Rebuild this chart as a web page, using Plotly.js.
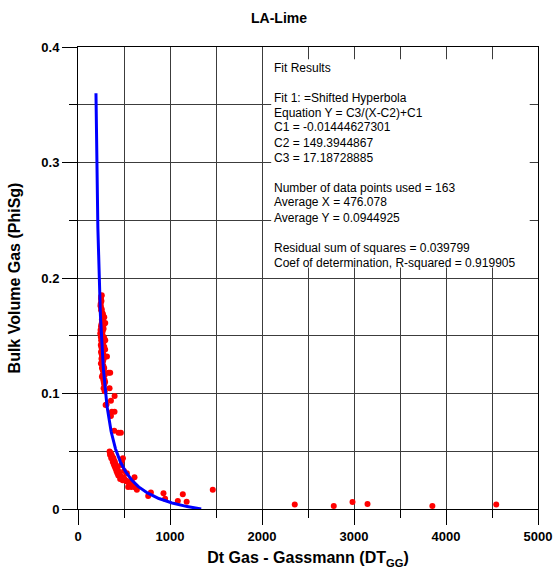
<!DOCTYPE html>
<html>
<head>
<meta charset="utf-8">
<script src="https://cdn.plot.ly/plotly-3.0.1.min.js"></script>
<style>
  html, body { margin: 0; padding: 0; background: #fff; }
  #chart { width: 558px; height: 571px; }
</style>
</head>
<body>
<div id="chart"></div>
<script>
// Measured samples: Dt Gas - Gassmann (x) vs Bulk Volume Gas PhiSg (y)
const dtGas = [
  258,252,250,255,247,249,244,252,258,262,
  270,265,275,272,285,268,260,275,262,282,
  296,255,270,250,262,278,245,258,268,242,
  250,262,255,270,248,260,285,296,252,265,
  258,275,262,285,248,255,270,260,295,265,
  250,275,258,315,262,268,255,280,265,272,
  249,262,275,268,260,285,270,278,332,350,
  282,268,290,260,275,288,280,295,285,343,
  278,290,398,358,300,310,368,397,358,394,
  441,466,
  343,350,355,348,360,365,370,362,375,380,
  385,378,390,395,388,400,405,398,410,415,
  408,420,425,418,430,435,428,440,445,438,
  450,455,462,458,468,475,480,488,478,470,
  500,485,495,505,515,524,531,540,555,567,
  580,590,614,600,545,
  1465,1181,1139,1085,947,929,792,763,640,622,
  2356,2780,2984,3147,3852,4546
];
const phiSg = [
  0.185,0.184,0.182,0.180,0.178,0.175,0.176,0.172,0.173,0.170,
  0.169,0.168,0.167,0.166,0.166,0.164,0.164,0.162,0.162,0.160,
  0.161,0.160,0.158,0.158,0.156,0.156,0.155,0.154,0.154,0.152,
  0.152,0.152,0.150,0.150,0.149,0.148,0.148,0.146,0.146,0.146,
  0.144,0.144,0.142,0.1405,0.142,0.140,0.140,0.138,0.138,0.136,
  0.136,0.134,0.134,0.132,0.132,0.131,0.130,0.130,0.128,0.128,
  0.126,0.126,0.124,0.124,0.122,0.122,0.120,0.120,0.118,0.118,
  0.118,0.116,0.116,0.1146,0.112,0.112,0.110,0.110,0.108,0.1045,
  0.1045,0.102,0.0978,0.0938,0.090,0.0905,0.0842,0.0842,0.0805,0.0678,
  0.066,0.066,
  0.0498,0.049,0.048,0.047,0.046,0.047,0.045,0.044,0.045,0.043,
  0.044,0.041,0.042,0.040,0.039,0.041,0.039,0.037,0.038,0.037,
  0.035,0.036,0.035,0.033,0.034,0.033,0.031,0.032,0.031,0.029,
  0.030,0.029,0.028,0.026,0.027,0.028,0.026,0.0439,0.042,0.038,
  0.033,0.025,0.027,0.026,0.025,0.024,0.031,0.024,0.022,0.0204,
  0.019,0.023,0.0274,0.021,0.019,
  0.0167,0.0063,0.0127,0.0069,0.0088,0.0137,0.0142,0.0112,0.0166,0.0186,
  0.0038,0.0026,0.0060,0.0044,0.0026,0.0038
];

// Shifted hyperbola fit: Y = C3/(X-C2)+C1
const C1 = -0.01444627301;
const C2 = 149.3944867;
const C3 = 17.18728885;
const fitTopY = 0.36;   // curve drawn from this Y down to Y = 0

const fitLines = [
  'Fit Results',
  '',
  'Fit 1: =Shifted Hyperbola',
  'Equation Y = C3/(X-C2)+C1',
  'C1 = -0.01444627301',
  'C2 = 149.3944867',
  'C3 = 17.18728885',
  '',
  'Number of data points used = 163',
  'Average X = 476.078',
  'Average Y = 0.0944925',
  '',
  'Residual sum of squares = 0.039799',
  'Coef of determination, R-squared = 0.919905'
];

// sample the fitted curve, denser near the steep end
const dStart = C3 / (fitTopY - C1);
const dEnd = -C3 / C1;
const fitX = [], fitY = [];
const N = 400;
for (let i = 0; i <= N; i++) {
  const d = dStart * Math.pow(dEnd / dStart, i / N);
  const x = C2 + d;
  fitX.push(x);
  fitY.push(C3 / (x - C2) + C1);
}

const FONT = 'Liberation Sans, Arial, sans-serif';

const traces = [
  {
    x: dtGas, y: phiSg, type: 'scatter', mode: 'markers',
    marker: { color: '#ff0000', size: 6 },
    hoverinfo: 'skip'
  },
  {
    x: fitX, y: fitY, type: 'scatter', mode: 'lines',
    line: { color: '#0000ff', width: 3 },
    hoverinfo: 'skip'
  }
];

// plot area in px (for placing the text lines)
const W = 558, H = 571;
const M = { l: 78, r: 20, t: 47, b: 62 };
const plotH = H - M.t - M.b;
const firstLinePx = 67.5, lineStep = 15;

const annotations = fitLines.map((s, i) => ({
  text: s,
  xref: 'x', x: 2110, xanchor: 'left',
  yref: 'paper', y: (H - M.b - (firstLinePx + i * lineStep)) / plotH, yanchor: 'middle',
  showarrow: false,
  font: { family: FONT, size: 12, color: '#000' }
})).filter(a => a.text !== '');

const axisCommon = {
  showline: true, linecolor: '#000', linewidth: 1, mirror: true,
  showgrid: true, gridcolor: '#3c3c3c', gridwidth: 1,
  zeroline: false,
  ticks: 'outside', ticklen: 15, tickwidth: 1, tickcolor: '#000',
  tickfont: { family: FONT, size: 13, color: '#000', weight: 'bold' }
};

const layout = {
  width: W, height: H,
  margin: M,
  paper_bgcolor: '#fff', plot_bgcolor: '#fff',
  showlegend: false,
  title: {
    text: 'LA-Lime',
    font: { family: FONT, size: 14, color: '#000', weight: 'bold' },
    x: 0.5, xref: 'container', xanchor: 'center',
    y: (H - 18) / H, yref: 'container', yanchor: 'middle'
  },
  xaxis: Object.assign({}, axisCommon, {
    range: [0, 5000], dtick: 1000, tick0: 0,
    minor: { dtick: 500, ticks: 'outside', ticklen: 8, tickcolor: '#000', showgrid: true, gridcolor: '#3c3c3c', gridwidth: 1 },
    title: { text: 'Dt Gas - Gassmann (DT<sub>GG</sub>)', standoff: 9,
             font: { family: FONT, size: 16, color: '#000', weight: 'bold' } }
  }),
  yaxis: Object.assign({}, axisCommon, {
    range: [0, 0.4], dtick: 0.1, tick0: 0,
    minor: { dtick: 0.05, ticks: 'outside', ticklen: 8, tickcolor: '#000', showgrid: true, gridcolor: '#3c3c3c', gridwidth: 1 },
    title: { text: 'Bulk Volume Gas (PhiSg)', standoff: 16,
             font: { family: FONT, size: 16, color: '#000', weight: 'bold' } }
  }),
  shapes: [{
    type: 'rect', layer: 'above',
    xref: 'x', yref: 'y', x0: 2100, x1: 4910, y0: 0.209, y1: 0.3895,
    fillcolor: '#fff', line: { width: 0 }
  }],
  annotations: annotations
};

Plotly.newPlot('chart', traces, layout, { staticPlot: true, displayModeBar: false });
</script>
</body>
</html>
